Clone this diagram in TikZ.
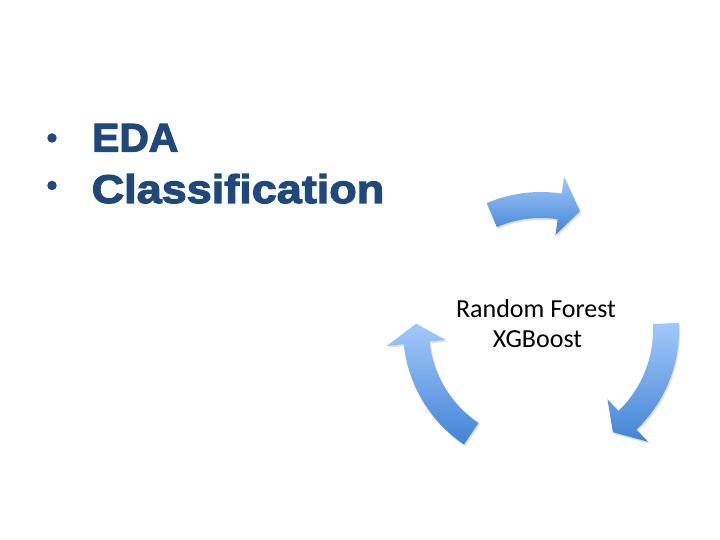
\documentclass[tikz,border=0pt]{standalone}
\usepackage{fontspec}
\setmainfont{Liberation Sans}
\newfontfamily\edafont{Liberation Sans}[BoldFeatures={FakeBold=3}, FakeStretch=1.02]
\newfontfamily\clsfont{Liberation Sans}[BoldFeatures={FakeBold=3}, FakeStretch=1.125]
\newfontfamily\bodyfont{Carlito}
\definecolor{txtblue}{RGB}{31,73,125}
\definecolor{arrowtop}{RGB}{162,200,250}
\definecolor{arrowbot}{RGB}{66,132,214}
\newcommand{\cyclepath}[3]{(#1:138pt) arc[start angle=#1, end angle=#2, radius=138pt] -- (#2:155pt) -- (#3:125pt) -- (#2:96pt) -- (#2:112pt) arc[start angle=#2, end angle=#1, radius=112pt] -- cycle}
\tikzset{
  heading/.style={anchor=base west, inner sep=0pt, text=txtblue, font=\fontsize{40}{48}\selectfont},
  bulletdot/.style={circle, fill=txtblue, minimum size=9.5pt, inner sep=0pt},
  centertext/.style={anchor=base, inner sep=0pt, font=\bodyfont\fontsize{26}{30}\selectfont},
  arrowfill/.style={top color=arrowtop, bottom color=arrowbot},
  arrowshadow/.style={fill=black, opacity=0.12}
}
\begin{document}
\begin{tikzpicture}[x=1pt, y=1pt]
\useasboundingbox (0,0) rectangle (720,540);
\fill[white] (0,0) rectangle (720,540);
% bullets and headings
\node[bulletdot] (b1) at (52,402) {};
\node[bulletdot] (b2) at (52,354.5) {};
\node[heading] (eda) at (92,388.5) {\edafont\bfseries EDA};
\node[heading] (cls) at (91.5,337) {\clsfont\bfseries Classification};
% cycle arrows
\begin{scope}[shift={(541,210)}]
  \fill[arrowshadow, shift={(1.2pt,-1.8pt)}] \cyclepath{113.2}{81.4}{71.8};
  \fill[arrowshadow, shift={(1.2pt,-1.8pt)}] \cyclepath{3.0}{-46.2}{-54.9};
  \fill[arrowshadow, shift={(1.2pt,-1.8pt)}] \cyclepath{236.1}{185.9}{177.1};
  \shade[arrowfill] \cyclepath{113.2}{81.4}{71.8};
  \shade[arrowfill] \cyclepath{3.0}{-46.2}{-54.9};
  \shade[arrowfill] \cyclepath{236.1}{185.9}{177.1};
\end{scope}
% center text
\node[centertext] (rf) at (536,222.7) {Random Forest};
\node[centertext] (xgb) at (537.5,192.3) {XGBoost};
\end{tikzpicture}
\end{document}
